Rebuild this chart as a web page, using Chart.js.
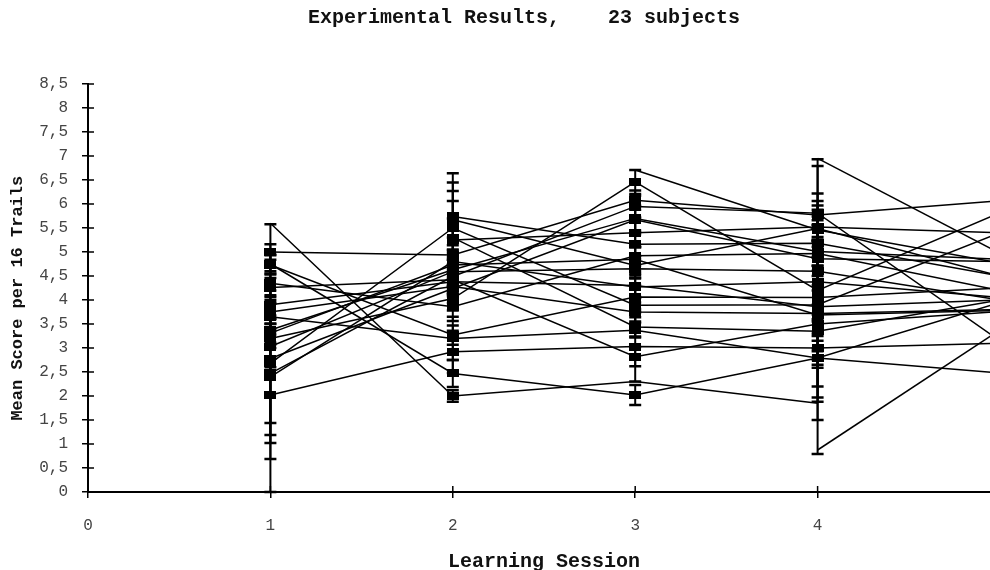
<!DOCTYPE html>
<html><head><meta charset="utf-8">
<script src="https://cdn.jsdelivr.net/npm/chart.js@4.4.0/dist/chart.umd.min.js"></script>
<style>
html,body{margin:0;padding:0;overflow:hidden;background:#fff;width:990px;height:570px}
#wrap{width:990px;height:570px;overflow:hidden;position:relative}
canvas{display:block}
</style></head><body><div id="wrap"><canvas id="c" width="1050" height="570" style="width:1050px;height:570px"></canvas></div>
<script>
// Learning sessions (x values)
const sessions = [1, 2, 3, 4, 5];
// Subject traces (A..Y), one value per subject in each session array
const subjects = ['A','B','C','D','E','F','G','H','I','J','K','L','M','N','O','P','Q','R','S','T','U','V','W','X','Y'];
const session1 = [null, null, 2.68, null, null, 5.0, 3.31, 3.03, 2.47, 4.26, 3.90, 3.75, 2.78, 3.2, 4.35, 3.65, 4.73, 2.02, 5.6, 3.375, 2.4, null, 4.75, null, null];
const session2 = [5.74, 5.67, 5.5, 5.30, 5.25, 4.94, 4.73, 4.59, 4.49, 4.42, 4.38, 4.28, 4.24, 4.03, 3.86, 3.2, 3.27, 2.92, 2.0, 4.63, 4.8, null, 2.47, null, null];
const session3 = [5.16, 4.72, 3.89, 3.44, 5.40, 6.08, 4.85, 4.65, 5.95, 2.82, 4.30, 3.75, 5.67, 6.46, 4.92, 3.37, 4.06, 3.03, 2.3, 5.7, 4.27, 6.71, 2.02, null, null];
const session4 = [5.18, 5.49, 3.90, 3.35, 5.52, 5.77, 3.69, 4.6, 5.81, 3.5, 3.86, 3.72, 4.86, 4.20, 4.97, 2.79, 4.05, 3.0, 1.85, 5.01, 4.38, 5.46, 2.79, 0.875, 6.95];
const session5 = [4.5, 4.5, 5.4, 4.0, 5.4, 6.07, 3.78, 4.0, 3.15, 3.76, 4.0, 3.8, 4.8, 5.82, 4.2, 3.95, 4.25, 3.1, null, 4.85, 4.05, 4.77, 2.48, 3.38, 4.97];
// Error bar half-widths (null = no marker / no bar)
const error1 = [null, null, 1.99, null, null, 0.16, 0.2, 0.25, 1.45, 0.2, 0.3, 0.25, 2.8, 0.2, 0.25, 0.3, 0.2, 0.58, null, 0.3, 1.21, null, 0.2, null, null];
const error2 = [0.9, 0.78, 0.2, 0.76, 1.02, 0.2, 0.3, 0.25, 0.2, 0.3, 0.25, 0.2, 0.3, 0.25, 0.3, 0.45, 0.2, 0.44, 0.12, 0.35, 0.25, null, 0.28, null, null];
const error3 = [0.25, 0.2, 0.15, 0.2, 0.3, 0.2, 0.25, 0.2, 0.22, 0.2, 0.25, 0.2, 0.3, 0.25, 0.2, 0.15, 0.25, 0.73, null, 0.25, 0.2, null, 0.21, null, null];
const error4 = [0.3, 0.25, 0.3, 0.2, 0.3, 0.2, 2.19, 0.3, 0.25, 0.2, 3.07, 1.52, 0.25, 0.3, 0.25, 0.14, 2.17, 0.25, null, 0.3, 2.41, 0.2, 0.2, null, null];
const error5 = [0.3, 0.3, 0.3, 0.3, 0.3, 0.3, 0.3, 0.3, 0.3, 0.3, 0.3, 0.3, 0.3, 0.3, 0.3, 0.3, 0.3, 0.3, null, 0.3, 0.3, 0.3, 0.3, 0.3, 0.3];
const yTicks = ['0','0,5','1','1,5','2','2,5','3','3,5','4','4,5','5','5,5','6','6,5','7','7,5','8','8,5'];
const xTicks = ['0','1','2','3','4','5'];

const values = [session1, session2, session3, session4, session5];
const errors = [error1, error2, error3, error4, error5];

const marker = document.createElement('canvas');
marker.width = 12; marker.height = 8;
const mg = marker.getContext('2d'); mg.fillStyle = '#000'; mg.fillRect(0, 0, 12, 8);

const datasets = subjects.map((name, i) => ({
  label: 'Subject ' + name,
  data: sessions.map((s, k) => ({x: s, y: values[k][i]})),
  borderColor: '#000',
  borderWidth: 1.5,
  backgroundColor: '#000',
  pointStyle: marker,
  pointRadius: ctx => (errors[ctx.dataIndex][ctx.datasetIndex] == null ? 0 : 5),
  tension: 0,
  spanGaps: false
}));

const errorBars = {
  id: 'errorBars',
  afterDatasetsDraw(chart) {
    const {ctx, scales: {x, y}} = chart;
    ctx.save();
    ctx.strokeStyle = '#000';
    sessions.forEach((s, k) => {
      values[k].forEach((v, i) => {
        const e = errors[k][i];
        if (v == null || e == null) return;
        const px = x.getPixelForValue(s);
        const top = y.getPixelForValue(v + e);
        const bot = y.getPixelForValue(Math.max(0, v - e));
        ctx.lineWidth = 2;
        ctx.beginPath(); ctx.moveTo(px, top); ctx.lineTo(px, bot); ctx.stroke();
        ctx.lineWidth = 2.5;
        ctx.beginPath();
        ctx.moveTo(px - 6, top); ctx.lineTo(px + 6, top);
        ctx.moveTo(px - 6, bot); ctx.lineTo(px + 6, bot);
        ctx.stroke();
      });
    });
    ctx.restore();
  }
};

const innerTicks = {
  id: 'innerTicks',
  afterDraw(chart) {
    const {ctx, chartArea, scales: {x, y}} = chart;
    ctx.save();
    ctx.strokeStyle = '#000';
    ctx.lineWidth = 1.5;
    ctx.beginPath();
    y.ticks.forEach(t => {
      const py = y.getPixelForValue(t.value);
      ctx.moveTo(chartArea.left, py); ctx.lineTo(chartArea.left + 6, py);
    });
    x.ticks.forEach(t => {
      const px = x.getPixelForValue(t.value);
      ctx.moveTo(px, chartArea.bottom); ctx.lineTo(px, chartArea.bottom - 6);
    });
    ctx.stroke();
    ctx.restore();
  }
};

const mono = '"Liberation Mono", "Courier New", monospace';

new Chart(document.getElementById('c'), {
  type: 'line',
  data: {datasets},
  options: {
    responsive: false,
    animation: false,
    events: [],
    layout: {padding: {left: 0, right: 50, top: 0, bottom: 0}},
    plugins: {
      legend: {display: false},
      tooltip: {enabled: false},
      title: {
        display: true,
        text: '    Experimental Results,    23 subjects',
        color: '#111',
        font: {family: mono, size: 20, weight: 'bold', lineHeight: 1.2},
        padding: {top: 6, bottom: 54}
      }
    },
    scales: {
      x: {
        type: 'linear', min: 0, max: 5,
        afterFit: s => { s.height = 78; },
        ticks: {stepSize: 1, padding: 18, color: '#444', font: {family: mono, size: 16},
          callback: (v) => xTicks[v] !== undefined ? xTicks[v] : ''},
        grid: {drawOnChartArea: false, drawTicks: true, tickLength: 6, color: '#000', lineWidth: 1.5},
        border: {display: true, color: '#000', width: 2},
        title: {display: true, text: 'Learning Session', color: '#111',
          font: {family: mono, size: 20, weight: 'bold', lineHeight: 0.8}, padding: {top: 0, bottom: 0}}
      },
      y: {
        type: 'linear', min: 0, max: 8.5,
        afterFit: s => { s.width = 88; },
        ticks: {stepSize: 0.5, padding: 14, color: '#444', font: {family: mono, size: 16},
          callback: (v) => yTicks[Math.round(v * 2)]},
        grid: {drawOnChartArea: false, drawTicks: true, tickLength: 6, color: '#000', lineWidth: 1.5},
        border: {display: true, color: '#000', width: 2},
        title: {display: true, text: 'Mean Score per 16 Trails  ', color: '#111',
          font: {family: mono, size: 17, weight: 'bold', lineHeight: 1.2}, padding: {top: 8, bottom: 0}}
      }
    }
  },
  plugins: [errorBars, innerTicks]
});
</script></body></html>
